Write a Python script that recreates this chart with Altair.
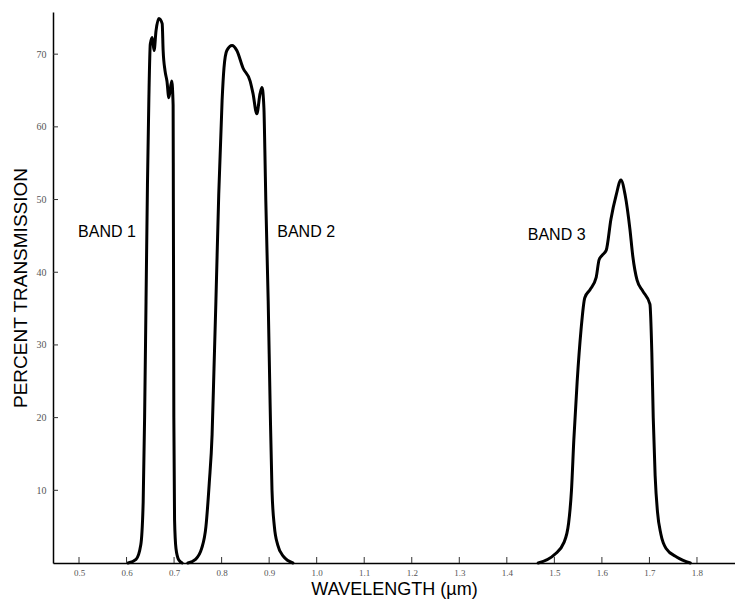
import altair as alt
import pandas as pd

# ---- data ----
band1_wl = [0.603, 0.620, 0.630, 0.635, 0.638, 0.641, 0.644, 0.647, 0.650, 0.654, 0.658, 0.662,
            0.668, 0.675, 0.677, 0.681, 0.685, 0.689, 0.695, 0.698, 0.6985, 0.699, 0.6995, 0.701,
            0.704, 0.710, 0.717]
band1_pct = [0, 0.5, 2.5, 8.4, 20, 36, 52, 64, 71.4, 72.3, 70.5, 73.2,
             74.9, 74.2, 70.5, 67.7, 66.3, 64, 66.3, 63, 50, 36, 20, 6,
             2, 0.4, 0]

band2_wl = [0.729, 0.745, 0.758, 0.767, 0.774, 0.780, 0.784, 0.788, 0.794, 0.801, 0.805, 0.811,
            0.822, 0.832, 0.845, 0.860, 0.866, 0.874, 0.881, 0.885, 0.889, 0.891, 0.893, 0.898,
            0.902, 0.906, 0.911, 0.918, 0.930, 0.950]
band2_pct = [0, 0.5, 2, 5, 11, 17.7, 26.8, 36, 50.8, 63.6, 68.1, 70.5,
             71.2, 70.5, 68.1, 66.3, 64.6, 61.8, 64.6, 65.4, 62.6, 56.7, 49.8, 36,
             22, 10, 5, 2.5, 0.9, 0]

band3_wl = [1.466, 1.501, 1.520, 1.530, 1.536, 1.541, 1.548, 1.556, 1.564, 1.575, 1.588, 1.594,
            1.600, 1.609, 1.619, 1.630, 1.640, 1.649, 1.659, 1.665, 1.674, 1.686, 1.701, 1.705,
            1.708, 1.712, 1.717, 1.724, 1.735, 1.758, 1.786]
band3_pct = [0, 1.2, 2.8, 5.5, 10, 17, 25, 32, 36.5, 37.6, 39.3, 41.7,
             42.3, 43, 47.3, 50.6, 52.7, 50.6, 45.9, 42.2, 38.9, 37.4, 35.6, 29,
             20, 12, 7, 4, 2, 0.8, 0]

label_text = ["BAND 1", "BAND 2", "BAND 3"]
label_wl = [0.498, 0.917, 1.444]
label_pct = [45.5, 45.5, 45.1]

x_ticks = [0.5, 0.6, 0.7, 0.8, 0.9, 1.0, 1.1, 1.2, 1.3, 1.4, 1.5, 1.6, 1.7, 1.8]
y_ticks = [10, 20, 30, 40, 50, 60, 70]

rows = []
for name, wl, pc in [("BAND 1", band1_wl, band1_pct), ("BAND 2", band2_wl, band2_pct),
                     ("BAND 3", band3_wl, band3_pct)]:
    for i, (w, p) in enumerate(zip(wl, pc)):
        rows.append({"band": name, "wl": w, "pct": p, "idx": i})
df = pd.DataFrame(rows)
labels_df = pd.DataFrame({"text": label_text, "wl": label_wl, "pct": label_pct})
xt_df = pd.DataFrame({"wl": x_ticks})
yt_df = pd.DataFrame({"pct": y_ticks})

W, H = 682, 551
xscale = alt.Scale(domain=[0.4453, 1.88], nice=False, zero=False)
yscale = alt.Scale(domain=[0, 75.8], nice=False, zero=True)

x_enc = alt.X("wl:Q", scale=xscale,
              axis=alt.Axis(values=x_ticks, format=".1f", tickSize=0, labelFontSize=9,
                            labelColor="#555", labelFont="Liberation Serif", labelPadding=5,
                            domainColor="black", domainWidth=1.5, grid=False,
                            title="WAVELENGTH (µm)", titleFont="Liberation Sans",
                            titleFontSize=18, titleFontWeight="normal", titleColor="black",
                            titlePadding=3))
y_enc = alt.Y("pct:Q", scale=yscale,
              axis=alt.Axis(values=y_ticks, tickSize=0, labelFontSize=10, labelColor="#555",
                            labelFont="Liberation Serif", labelPadding=7,
                            domainColor="black", domainWidth=1.5, grid=False,
                            title="PERCENT TRANSMISSION", titleFont="Liberation Sans",
                            titleFontSize=19, titleFontWeight="normal", titleColor="black",
                            titlePadding=6))

lines = alt.Chart(df).mark_line(color="black", strokeWidth=3, interpolate="monotone",
                                strokeJoin="round", strokeCap="round").encode(
    x=x_enc, y=y_enc, detail="band:N", order="idx:Q")

xticks = alt.Chart(xt_df).mark_rule(color="#333", strokeWidth=1).encode(
    x=alt.X("wl:Q", scale=xscale), y=alt.value(H - 6), y2=alt.value(H))

yticks = alt.Chart(yt_df).mark_rule(color="#333", strokeWidth=1).encode(
    y=alt.Y("pct:Q", scale=yscale), x=alt.value(0), x2=alt.value(5))

texts = alt.Chart(labels_df).mark_text(align="left", baseline="middle", fontSize=16,
                                       font="Liberation Sans", color="black").encode(
    x=alt.X("wl:Q", scale=xscale), y=alt.Y("pct:Q", scale=yscale), text="text:N")

chart = alt.layer(lines, xticks, yticks, texts).properties(
    width=W, height=H,
    autosize=alt.AutoSizeParams(type="none"),
    padding={"left": 45, "top": 4, "right": 0, "bottom": 36},
    background="white",
).configure_view(stroke=None)

chart.save("out.html", embed_options={"renderer": "svg", "actions": False})
